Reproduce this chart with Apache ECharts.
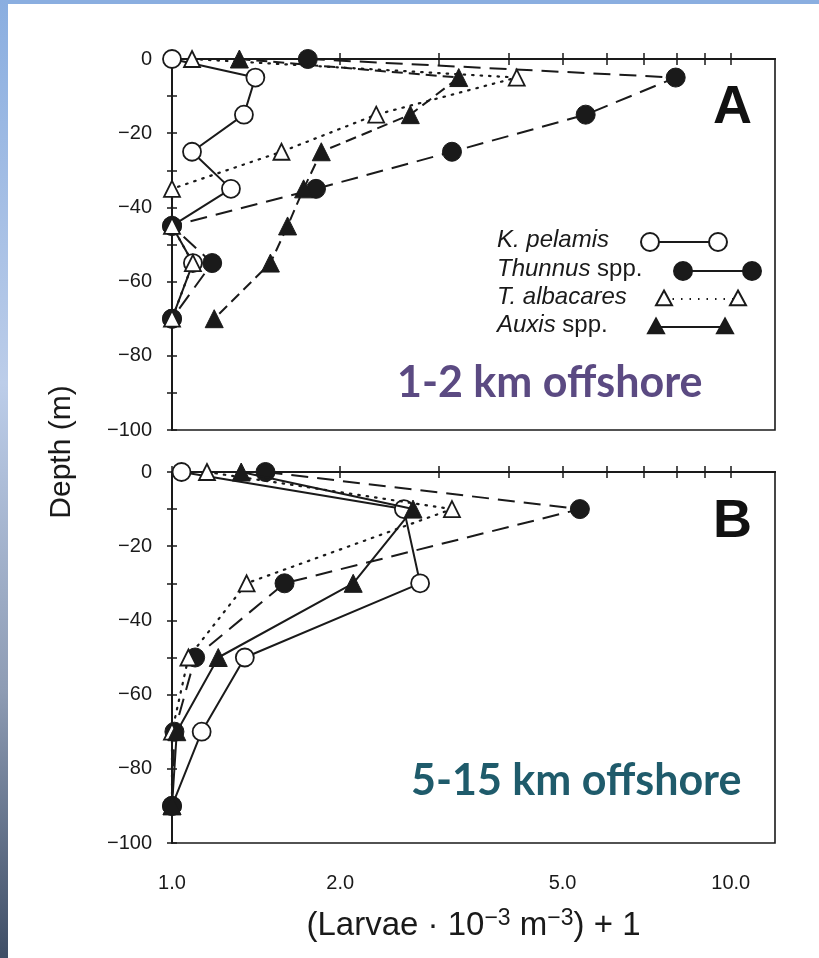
<!DOCTYPE html>
<html><head><meta charset="utf-8">
<script src="https://cdn.jsdelivr.net/npm/echarts@6/dist/echarts.min.js"></script>
<style>
html,body{margin:0;padding:0;background:#fff;overflow:hidden;}
#chart{width:819px;height:958px;position:absolute;left:0;top:0;}
#topbar{position:absolute;left:0;top:0;width:819px;height:4px;background:#8aaee0;}
#leftbar{position:absolute;left:0;top:0;width:8px;height:958px;background:linear-gradient(#8aaee0,#bccde9 40%,#8e9cb4 72%,#3f4e66);}
</style></head>
<body>
<div id="chart"></div><div id="topbar"></div><div id="leftbar"></div>
<script>
// ---- data ----
const depthsA = [0, -5, -15, -25, -35, -45, -55, -70];
const kPelamisA = [1.0, 1.41, 1.345, 1.086, 1.275, 1.0, 1.09, 1.0];
const thunnusA = [1.75, 7.97, 5.50, 3.17, 1.81, 1.0, 1.18, 1.0];
const albacaresA = [1.086, 4.14, 2.32, 1.57, 1.0, 1.0, 1.09, 1.0];
const auxisA = [1.32, 3.26, 2.67, 1.85, 1.72, 1.61, 1.50, 1.19];

const depthsB = [0, -10, -30, -50, -70, -90];
const kPelamisB = [1.04, 2.60, 2.78, 1.35, 1.13, 1.0];
const thunnusB = [1.47, 5.37, 1.59, 1.10, 1.01, 1.0];
const albacaresB = [1.155, 3.17, 1.36, 1.07, 1.0, 1.0];
const auxisB = [1.33, 2.70, 2.11, 1.21, 1.02, 1.0];

const xTickValues = [1, 2, 3, 4, 5, 6, 7, 8, 9, 10];
const xLabelValues = [1, 2, 5, 10];
const speciesNames = ['K. pelamis', 'Thunnus spp.', 'T. albacares', 'Auxis spp.'];
const panelLabels = ['A', 'B'];
const offshoreLabels = ['1-2 km offshore', '5-15 km offshore'];

// ---- chart ----
const FONT = '"Liberation Sans", Arial, Helvetica, sans-serif';
const INK = '#1a1a1a';
const chart = echarts.init(document.getElementById('chart'), null, {renderer: 'canvas'});

const grids = [
  {left: 172, top: 59, width: 603, height: 371},
  {left: 172, top: 472, width: 603, height: 371}
].map(g => Object.assign(g, {show: true, borderColor: INK, borderWidth: 1.6, backgroundColor: 'transparent'}));

function xAx(gi, pos, labels) {
  const ax = {
    type: 'log', logBase: 10, min: 1, max: 12, gridIndex: gi, position: pos,
    axisLine: {show: true, lineStyle: {color: INK, width: 2}},
    axisTick: {show: true, inside: true, length: 6, lineStyle: {color: INK, width: 1.5}, customValues: xTickValues},
    minorTick: {show: false},
    splitLine: {show: false},
    axisLabel: {show: labels, customValues: xLabelValues, margin: 30, fontSize: 20, color: INK, fontFamily: FONT,
      formatter: v => Number(v).toFixed(1)}
  };
  if (labels) {
    ax.name = '(Larvae · 10{sup|−3} m{sup|−3}) + 1';
    ax.nameLocation = 'middle';
    ax.nameGap = 64;
    ax.nameTextStyle = {fontSize: 33, color: INK, fontFamily: FONT,
      rich: {sup: {fontSize: 23, fontFamily: FONT, color: INK, padding: [0, 0, 15, 0]}}};
  }
  return ax;
}
function yAx(gi, main) {
  return {
    type: 'value', min: -100, max: 0, interval: 10, gridIndex: gi, position: 'left',
    axisLine: {show: main, lineStyle: {color: INK, width: 2}},
    axisTick: {show: true, inside: main, length: 5, lineStyle: {color: INK, width: 1.5}},
    splitLine: {show: false},
    axisLabel: {show: main, margin: 20, fontSize: 20, color: INK, fontFamily: FONT,
      formatter: v => (v % 20 === 0 ? (v < 0 ? '\u2212' + (-v) : '0') : '')}
  };
}

const openSym = {color: '#fff', borderColor: INK, borderWidth: 1.8};
const fillSym = {color: INK, borderColor: INK, borderWidth: 1};
const styles = [
  {symbol: 'circle', symbolSize: 18, itemStyle: openSym, line: ['solid', 'solid']},
  {symbol: 'circle', symbolSize: 19, itemStyle: fillSym, line: [[17, 9], [17, 9]]},
  {symbol: 'triangle', symbolSize: 16, itemStyle: openSym, line: [[1.5, 7], [1.5, 7]]},
  {symbol: 'triangle', symbolSize: 18, itemStyle: fillSym, line: [[11, 6], 'solid']}
];
const panelData = [
  {depths: depthsA, vals: [kPelamisA, thunnusA, albacaresA, auxisA]},
  {depths: depthsB, vals: [kPelamisB, thunnusB, albacaresB, auxisB]}
];

const series = [];
panelData.forEach((p, gi) => {
  p.vals.forEach((xs, si) => {
    const st = styles[si];
    series.push({
      type: 'line', name: speciesNames[si], xAxisIndex: gi * 2, yAxisIndex: gi * 2,
      data: p.depths.map((d, i) => [xs[i], d]),
      symbol: st.symbol, symbolSize: st.symbolSize, showAllSymbols: true,
      itemStyle: st.itemStyle,
      lineStyle: {color: INK, width: si === 2 ? 2.2 : 2, type: st.line[gi], cap: si === 2 ? 'round' : 'butt'},
      z: 3 + si, animation: false, silent: true
    });
  });
});

// legend drawn as graphics (text then symbol—line—symbol)
const legendRows = [
  {y: 242, rich: '{i|K. pelamis}', x1: 650, x2: 718, sym: 'oc', dash: null},
  {y: 271, rich: '{i|Thunnus} {n|spp.}', x1: 683, x2: 752, sym: 'fc', dash: null},
  {y: 299, rich: '{i|T. albacares}', x1: 664, x2: 738, sym: 'ot', dash: [1.5, 7]},
  {y: 327, rich: '{i|Auxis} {n|spp.}', x1: 656, x2: 725, sym: 'ft', dash: null}
];
const richLegend = {
  i: {fontStyle: 'italic', fontSize: 24, fontFamily: FONT, fill: INK},
  n: {fontSize: 24, fontFamily: FONT, fill: INK}
};
const graphics = [];
function symbolGraphic(kind, cx, cy) {
  const fill = (kind === 'fc' || kind === 'ft') ? INK : '#fff';
  if (kind === 'oc' || kind === 'fc') {
    return {type: 'circle', shape: {cx, cy, r: 9}, style: {fill, stroke: INK, lineWidth: 2}, z: 20};
  }
  const h = 14, w = 16;
  return {type: 'polygon', shape: {points: [[cx, cy - h * 0.6], [cx + w / 2, cy + h * 0.45], [cx - w / 2, cy + h * 0.45]]},
    style: {fill, stroke: INK, lineWidth: 2}, z: 20};
}
legendRows.forEach(r => {
  graphics.push({type: 'text', left: 497, top: r.y - 14, z: 20,
    style: {text: r.rich, rich: richLegend, fill: INK, font: '24px ' + FONT}});
  graphics.push({type: 'line', shape: {x1: r.x1, y1: r.y, x2: r.x2, y2: r.y},
    style: {stroke: INK, lineWidth: 1.8, lineDash: r.dash || null}, z: 19});
  graphics.push(symbolGraphic(r.sym, r.x1, r.y));
  graphics.push(symbolGraphic(r.sym, r.x2, r.y));
});
// panel letters
graphics.push({type: 'text', left: 713, top: 81, z: 20, style: {text: panelLabels[0], fill: '#111', font: 'bold 54px ' + FONT}});
graphics.push({type: 'text', left: 713, top: 495, z: 20, style: {text: panelLabels[1], fill: '#111', font: 'bold 54px ' + FONT}});
// offshore labels
graphics.push({type: 'text', left: 397, top: 362, z: 20, style: {text: offshoreLabels[0], fill: '#5b4a82', font: 'bold 43px Lato, "Open Sans", sans-serif'}});
graphics.push({type: 'text', left: 411, top: 760, z: 20, style: {text: offshoreLabels[1], fill: '#1f5b6b', font: 'bold 43px Lato, "Open Sans", sans-serif'}});
// y axis title
graphics.push({type: 'text', x: 62, y: 452, rotation: Math.PI / 2, z: 20,
  style: {text: 'Depth (m)', fill: INK, font: '30px ' + FONT, align: 'center', verticalAlign: 'middle'}});

chart.setOption({
  animation: false,
  backgroundColor: '#fff',
  grid: grids,
  xAxis: [xAx(0, 'bottom', false), xAx(0, 'top', false), xAx(1, 'bottom', true), xAx(1, 'top', false)],
  yAxis: [yAx(0, true), yAx(0, false), yAx(1, true), yAx(1, false)],
  series: series,
  graphic: graphics
});
</script>
</body></html>
